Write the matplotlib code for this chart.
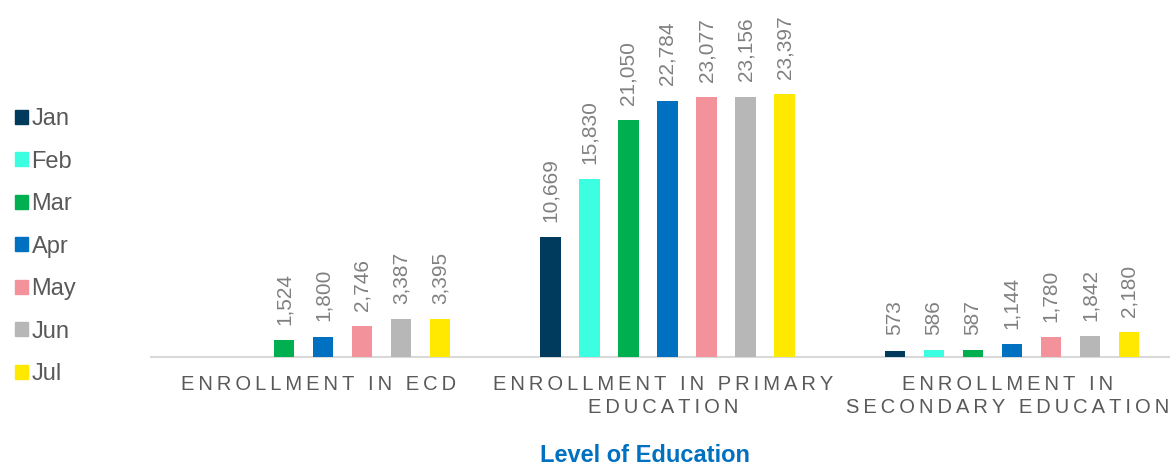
import numpy as np
import matplotlib
matplotlib.use('Agg')
import matplotlib.pyplot as plt
from matplotlib.patches import Patch

plt.rcParams['font.family'] = ['Liberation Sans', 'DejaVu Sans']

# data
categories = ['ENROLLMENT IN ECD',
              'ENROLLMENT IN PRIMARY\nEDUCATION',
              'ENROLLMENT IN\nSECONDARY EDUCATION']
months = ['Jan', 'Feb', 'Mar', 'Apr', 'May', 'Jun', 'Jul']
colors = ['#003A5D', '#3BFFE0', '#00B050', '#0070C0', '#F4929C', '#B7B7B7', '#FFE900']

ecd = [np.nan, np.nan, 1524, 1800, 2746, 3387, 3395]
primary = [10669, 15830, 21050, 22784, 23077, 23156, 23397]
secondary = [573, 586, 587, 1144, 1780, 1842, 2180]


def spaced(label):
    # imitate the wide letter spacing of the original axis labels
    lines = []
    for line in label.split('\n'):
        words = [' '.join(w) for w in line.split(' ')]
        lines.append('   '.join(words).replace(' ', '\u2009').replace('\u2009\u2009\u2009', '\u2009 \u2009'))
    return '\n'.join(lines)


values = np.array([ecd, primary, secondary])
x = np.arange(len(categories))
step = 0.1133
width = 0.0595

fig = plt.figure(figsize=(11.7, 4.68), dpi=100)
ax = fig.add_axes([0.129, 0.2372, 0.883, 0.7628])

for i, m in enumerate(months):
    pos = x + (i - 3) * step
    vals = values[:, i]
    ax.bar(pos, np.nan_to_num(vals), width, color=colors[i], label=m, zorder=3)
    for p, v in zip(pos, vals):
        if np.isnan(v):
            continue
        ax.annotate(f'{int(v):,}', (p, v), xytext=(0, 11), textcoords='offset points',
                    rotation=90, ha='center', va='bottom', fontsize=15, color='#808080')

ax.set_xlim(-0.5, 2.5)
ax.set_ylim(0, 31740)
ax.set_yticks([])
ax.set_xticks(x - 0.012)
ax.set_xticklabels([spaced(c) for c in categories], fontsize=14.5, color='#595959',
                   linespacing=1.28)
ax.tick_params(axis='x', length=0, pad=13)
for s in ['top', 'right', 'left']:
    ax.spines[s].set_visible(False)
ax.spines['bottom'].set_color('#D9D9D9')
ax.spines['bottom'].set_linewidth(1.5)

fig.text(645 / 1170, 1 - 456 / 468, 'Level of Education', ha='center', va='center',
         fontsize=17, fontweight='bold', color='#0070C0')

handles = [Patch(color=c, label=m) for c, m in zip(colors, months)]
fig.legend(handles=handles, loc='upper left', bbox_to_anchor=(15 / 1170, 1 - 108 / 468),
           frameon=False, fontsize=17, labelcolor='#595959', handlelength=0.55,
           handleheight=0.55, handletextpad=0.15, labelspacing=0.87, borderaxespad=0,
           borderpad=0)

fig.savefig('out.png', dpi=100)
